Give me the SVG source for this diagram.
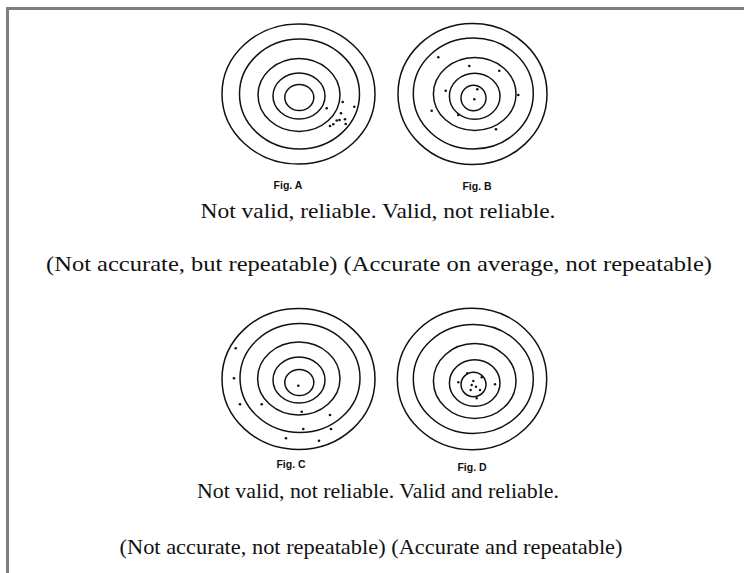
<svg xmlns="http://www.w3.org/2000/svg" width="744" height="573" viewBox="0 0 744 573">
<style>
.ring{fill:none;stroke:#111;stroke-width:1.5}
.dot{fill:#111}
.fig{font-family:"Liberation Sans",Arial,sans-serif;font-weight:bold;font-size:10.5px;fill:#111;text-anchor:middle}
.cap{font-family:"Liberation Serif","Times New Roman",serif;font-size:22px;fill:#111;text-anchor:middle}
</style>
<rect width="744" height="573" fill="#fff"/>
<path d="M7.5 573 V8.5 H744" fill="none" stroke="#7f7f7f" stroke-width="3"/>

<g id="targetA">
<ellipse class="ring" cx="298.5" cy="94" rx="76.5" ry="70"/>
<ellipse class="ring" cx="299.5" cy="94" rx="60" ry="55"/>
<ellipse class="ring" cx="299" cy="95" rx="41" ry="36.5"/>
<ellipse class="ring" cx="299" cy="96" rx="26" ry="23"/>
<ellipse class="ring" cx="299.3" cy="97.5" rx="14.5" ry="13"/>
<circle class="dot" cx="342.7" cy="102" r="1.3"/>
<circle class="dot" cx="326.7" cy="108.3" r="1.3"/>
<circle class="dot" cx="354.3" cy="106.7" r="1.3"/>
<circle class="dot" cx="341" cy="113.3" r="1.3"/>
<circle class="dot" cx="336.7" cy="120.5" r="1.3"/>
<circle class="dot" cx="339.5" cy="120" r="1.3"/>
<circle class="dot" cx="345" cy="119.3" r="1.3"/>
<circle class="dot" cx="333.3" cy="124.3" r="1.3"/>
<circle class="dot" cx="330" cy="126" r="1.3"/>
<circle class="dot" cx="345.7" cy="124" r="1.3"/>
<text class="fig" x="288" y="189">Fig. A</text>
</g>

<g id="targetB">
<ellipse class="ring" cx="472.5" cy="94" rx="74.5" ry="70.5"/>
<ellipse class="ring" cx="473.3" cy="93.5" rx="60" ry="55.5"/>
<ellipse class="ring" cx="474.7" cy="94" rx="41.3" ry="36.5"/>
<ellipse class="ring" cx="474.7" cy="96.3" rx="25.3" ry="23"/>
<ellipse class="ring" cx="473.5" cy="98" rx="12.5" ry="12.8"/>
<circle class="dot" cx="438.3" cy="57.3" r="1.3"/>
<circle class="dot" cx="469.3" cy="66" r="1.3"/>
<circle class="dot" cx="499.3" cy="70.7" r="1.3"/>
<circle class="dot" cx="445.7" cy="90.7" r="1.3"/>
<circle class="dot" cx="477.3" cy="89.3" r="1.3"/>
<circle class="dot" cx="518.3" cy="95" r="1.3"/>
<circle class="dot" cx="474.3" cy="99.3" r="1.3"/>
<circle class="dot" cx="431.7" cy="110.7" r="1.3"/>
<circle class="dot" cx="458.3" cy="115" r="1.3"/>
<circle class="dot" cx="496" cy="129.3" r="1.3"/>
<text class="fig" x="477" y="190">Fig. B</text>
</g>

<text class="cap" x="378" y="218" textLength="355" lengthAdjust="spacingAndGlyphs">Not valid, reliable. Valid, not reliable.</text>
<text class="cap" x="379" y="271" textLength="666" lengthAdjust="spacingAndGlyphs">(Not accurate, but repeatable) (Accurate on average, not repeatable)</text>

<g id="targetC">
<ellipse class="ring" cx="298.5" cy="379" rx="76.5" ry="70.5"/>
<ellipse class="ring" cx="300" cy="378" rx="60" ry="54.5"/>
<ellipse class="ring" cx="298.8" cy="378.5" rx="41.2" ry="36.5"/>
<ellipse class="ring" cx="299" cy="380" rx="26" ry="23"/>
<ellipse class="ring" cx="299.3" cy="382.5" rx="14.5" ry="13"/>
<circle class="dot" cx="235.7" cy="348.3" r="1.3"/>
<circle class="dot" cx="234" cy="378.3" r="1.3"/>
<circle class="dot" cx="298.3" cy="385.7" r="1.3"/>
<circle class="dot" cx="240" cy="404.3" r="1.3"/>
<circle class="dot" cx="261.7" cy="404.3" r="1.3"/>
<circle class="dot" cx="301.7" cy="411.7" r="1.3"/>
<circle class="dot" cx="330" cy="415" r="1.3"/>
<circle class="dot" cx="303.3" cy="429" r="1.3"/>
<circle class="dot" cx="331" cy="429" r="1.3"/>
<circle class="dot" cx="286" cy="438.3" r="1.3"/>
<circle class="dot" cx="319" cy="440.7" r="1.3"/>
<text class="fig" x="291" y="468">Fig. C</text>
</g>

<g id="targetD">
<ellipse class="ring" cx="472" cy="379" rx="74.7" ry="70.8"/>
<ellipse class="ring" cx="473.3" cy="379" rx="60" ry="54.5"/>
<ellipse class="ring" cx="474.7" cy="381" rx="41.3" ry="37.5"/>
<ellipse class="ring" cx="474.7" cy="383" rx="25.3" ry="23.3"/>
<ellipse class="ring" cx="473.5" cy="384.5" rx="12.5" ry="12.2"/>
<circle class="dot" cx="467.3" cy="373.3" r="1.2"/>
<circle class="dot" cx="481.7" cy="377.3" r="1.2"/>
<circle class="dot" cx="458.3" cy="382.3" r="1.2"/>
<circle class="dot" cx="473.3" cy="381" r="1.2"/>
<circle class="dot" cx="471.7" cy="385" r="1.2"/>
<circle class="dot" cx="476" cy="386.7" r="1.2"/>
<circle class="dot" cx="480" cy="390" r="1.2"/>
<circle class="dot" cx="470.7" cy="390" r="1.2"/>
<circle class="dot" cx="495" cy="384.3" r="1.2"/>
<circle class="dot" cx="476.7" cy="398.3" r="1.2"/>
<text class="fig" x="472" y="471">Fig. D</text>
</g>

<text class="cap" x="378" y="498" textLength="362" lengthAdjust="spacingAndGlyphs">Not valid, not reliable. Valid and reliable.</text>
<text class="cap" x="371" y="554" textLength="503" lengthAdjust="spacingAndGlyphs">(Not accurate, not repeatable) (Accurate and repeatable)</text>
</svg>
